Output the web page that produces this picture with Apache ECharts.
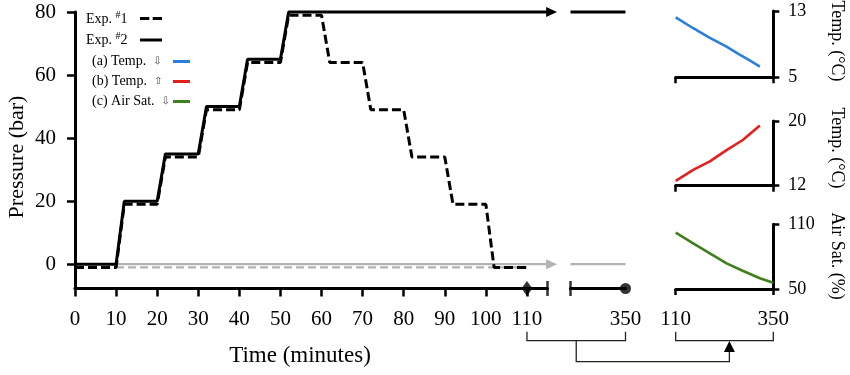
<!DOCTYPE html>
<html><head><meta charset="utf-8">
<script src="https://cdn.jsdelivr.net/npm/echarts@6/dist/echarts.min.js"></script>
<style>html,body{margin:0;padding:0;background:#fff}#c{width:850px;height:375px}</style>
</head><body><div id="c"></div>
<script>
const FONT = '"Liberation Serif", "Times New Roman", serif';

// ---- main panel (0-115 min) ----
const timeTicks = [0, 10, 20, 30, 40, 50, 60, 70, 80, 90, 100, 110];
const pressureTicks = [0, 20, 40, 60, 80];
const exp2Pressure = [[0,0],[10,0],[12,20],[20,20],[22,35],[30,35],[32,50],[40,50],[42,65],[50,65],[52,80],[116,80]];
const exp1Pressure = [[0,-1],[10,-1],[12,19],[20,19],[22,34],[30,34],[32,49],[40,49],[42,64],[50,64],[52,79],[60,79],[62,64],[70,64],[72,49],[80,49],[82,34],[90,34],[92,19],[100,19],[102,-1],[110,-1]];
const ambientSolid = [[10,0],[116,0]];
const ambientDashed = [[10,-1],[110,-1]];

// ---- long-run segment (up to 350 min) ----
const longTicks = [350];
const exp2Long = [[330,80],[350,80]];
const ambientLong = [[330,0],[350,0]];

// ---- right-hand panels (110-350 min) ----
const panelTicks = [110, 350];
const tempDown = [[110,12.24],[152,10.95],[194,9.75],[235,8.7],[263,7.85],[293,7.0],[317,6.3]];
const tempUp = [[110,12.6],[153,13.95],[194,15.0],[235,16.4],[275,17.65],[317,19.45]];
const airSatDown = [[110,102.2],[153,92.4],[194,83.1],[235,73.8],[276,66.7],[317,60.0],[350,55.8]];
const tempDownTicks = [5, 13];
const tempUpTicks = [12, 20];
const airSatTicks = [50, 110];

const BLUE = '#2a7fde', RED = '#e3201b', GREEN = '#3f7f1d', GRAY = '#b3b3b3';
const Y0 = -7.7;

const chart = echarts.init(document.getElementById('c'), null, {renderer: 'canvas'});

function axisBase(extra) {
  return Object.assign({
    axisLine: {show: true, onZero: false, lineStyle: {color: '#000', width: 3}},
    splitLine: {show: false},
  }, extra);
}
const lbl = (vals, size, margin) => ({show: true, customValues: vals, color: '#000', fontFamily: FONT, fontSize: size, margin: margin});
const tck = (vals, len) => ({show: true, customValues: vals, length: len, lineStyle: {color: '#000', width: 2.5}});

const option = {
  animation: false,
  grid: [
    {left: 75, top: 12, width: 472.5, height: 276.5},
    {left: 570.5, top: 12, width: 55, height: 276.5},
    {left: 675.7, top: 11, width: 97.6, height: 66.3},
    {left: 675.7, top: 121, width: 97.6, height: 64.7},
    {left: 675.7, top: 224.3, width: 97.6, height: 64.7}
  ],
  xAxis: [
    axisBase({type: 'value', gridIndex: 0, min: 0, max: 115, axisTick: tck(timeTicks, 8), axisLabel: lbl(timeTicks, 21, 20)}),
    axisBase({type: 'value', gridIndex: 1, min: 330, max: 350, axisTick: {show: false}, axisLabel: lbl(longTicks, 21, 20)}),
    axisBase({type: 'value', gridIndex: 2, min: 110, max: 350, axisTick: tck(panelTicks, 6), axisLabel: {show: false}}),
    axisBase({type: 'value', gridIndex: 3, min: 110, max: 350, axisTick: tck(panelTicks, 6), axisLabel: {show: false}}),
    axisBase({type: 'value', gridIndex: 4, min: 110, max: 350, axisTick: tck(panelTicks, 6), axisLabel: lbl(panelTicks, 21, 20)})
  ],
  yAxis: [
    axisBase({type: 'value', gridIndex: 0, min: Y0, max: 80, axisTick: tck(pressureTicks, 8), axisLabel: lbl(pressureTicks, 21, 19)}),
    {type: 'value', gridIndex: 1, min: Y0, max: 80, show: false},
    axisBase({type: 'value', gridIndex: 2, position: 'right', min: 5, max: 13, axisTick: tck(tempDownTicks, 6), axisLabel: lbl(tempDownTicks, 18, 15)}),
    axisBase({type: 'value', gridIndex: 3, position: 'right', min: 12, max: 20, axisTick: tck(tempUpTicks, 6), axisLabel: lbl(tempUpTicks, 18, 15)}),
    axisBase({type: 'value', gridIndex: 4, position: 'right', min: 50, max: 110, axisTick: tck(airSatTicks, 6), axisLabel: lbl(airSatTicks, 18, 15)})
  ],
  series: [
    {name: 'Ambient (Exp. #1)', type: 'line', xAxisIndex: 0, yAxisIndex: 0, data: ambientDashed, symbol: 'none', clip: false,
     lineStyle: {color: GRAY, width: 2.2, type: [8, 4]}, z: 2},
    {name: 'Ambient (Exp. #2)', type: 'line', xAxisIndex: 0, yAxisIndex: 0, clip: false, symbol: 'none', showSymbol: true,
     data: ambientSolid.map((p, i) => i === ambientSolid.length - 1 ? {value: p, symbol: 'triangle', symbolSize: [10, 11], symbolRotate: -90, itemStyle: {color: GRAY}} : {value: p}),
     lineStyle: {color: GRAY, width: 2.2}, itemStyle: {color: GRAY}, z: 2},
    {name: 'Exp. #2', type: 'line', xAxisIndex: 0, yAxisIndex: 0, clip: false, symbol: 'none', showSymbol: true,
     data: exp2Pressure.map((p, i) => i === exp2Pressure.length - 1 ? {value: p, symbol: 'triangle', symbolSize: [10, 11], symbolRotate: -90} : {value: p}),
     lineStyle: {color: '#000', width: 3}, itemStyle: {color: '#000'}, z: 4},
    {name: 'Exp. #1', type: 'line', xAxisIndex: 0, yAxisIndex: 0, data: exp1Pressure, symbol: 'none', clip: false,
     lineStyle: {color: '#000', width: 3, type: [9, 4]}, z: 3},
    {name: 'Main axis marks', type: 'scatter', xAxisIndex: 0, yAxisIndex: 0, clip: false, silent: true, z: 6,
     data: [{value: [110, Y0], symbol: 'diamond', symbolSize: [11, 15]}, {value: [115, Y0], symbol: 'rect', symbolSize: [2.5, 15]}],
     itemStyle: {color: '#000'}},
    {name: 'Exp. #2 long', type: 'line', xAxisIndex: 1, yAxisIndex: 1, data: exp2Long, symbol: 'none', clip: false,
     lineStyle: {color: '#000', width: 3}},
    {name: 'Ambient long', type: 'line', xAxisIndex: 1, yAxisIndex: 1, data: ambientLong, symbol: 'none', clip: false,
     lineStyle: {color: GRAY, width: 2.2}},
    {name: 'Long axis marks', type: 'scatter', xAxisIndex: 1, yAxisIndex: 1, clip: false, silent: true, z: 6,
     data: [{value: [350, Y0], symbol: 'circle', symbolSize: 11}, {value: [330, Y0], symbol: 'rect', symbolSize: [2.5, 15]}],
     itemStyle: {color: '#000'}},
    {name: '(a) Temp.', type: 'line', xAxisIndex: 2, yAxisIndex: 2, data: tempDown, symbol: 'none', clip: false,
     lineStyle: {color: BLUE, width: 2.6}},
    {name: '(b) Temp.', type: 'line', xAxisIndex: 3, yAxisIndex: 3, data: tempUp, symbol: 'none', clip: false,
     lineStyle: {color: RED, width: 2.6}},
    {name: '(c) Air Sat.', type: 'line', xAxisIndex: 4, yAxisIndex: 4, data: airSatDown, symbol: 'none', clip: false,
     lineStyle: {color: GREEN, width: 2.6}}
  ]
};
chart.setOption(option);

// ---- annotations (legend, titles, brackets) ----
const px = (axis, v) => chart.convertToPixel({xAxisIndex: axis}, v);
const L110 = px(0, 110), L350 = px(1, 350), R110 = px(4, 110), R350 = px(4, 350), RArrow = px(4, 242);
const midL = (L110 + L350) / 2;
const bTop = 331.7, bBot = 340.7, bLow = 361.7;

const txt = (x, y, text, size, rot) => ({type: 'text', x: x, y: y, rotation: rot || 0,
  style: {text: text, fill: '#000', font: size + 'px ' + FONT, align: 'center', verticalAlign: 'middle'}});
const richStyle = {
  s: {fontSize: 10, fontFamily: FONT, verticalAlign: 'top', lineHeight: 18, fill: '#000'},
  a: {fontSize: 10, fontFamily: '"DejaVu Sans"', fill: '#444'}
};
const legTxt = (x, y, text) => ({type: 'text', x: x, y: y,
  style: {text: text, fill: '#000', font: '14px ' + FONT, align: 'left', verticalAlign: 'middle', rich: richStyle}});
const legLine = (x1, x2, y, color, dash) => ({type: 'line', shape: {x1: x1, y1: y, x2: x2, y2: y},
  style: {stroke: color, lineWidth: 3, lineDash: dash || null}});
const poly = (pts) => ({type: 'polyline', shape: {points: pts}, style: {stroke: '#222', lineWidth: 1.3, fill: null}});

chart.setOption({
  graphic: {elements: [
    txt(17, 157, 'Pressure (bar)', 22, Math.PI / 2),
    txt(300, 356, 'Time (minutes)', 23, 0),
    txt(836.7, 41, 'Temp. (°C)', 18, -Math.PI / 2),
    txt(836.7, 148, 'Temp. (°C)', 18, -Math.PI / 2),
    txt(836.7, 256, 'Air Sat. (%)', 18, -Math.PI / 2),
    legTxt(86, 19, 'Exp. {s|#}1'),
    legLine(140, 162, 18.5, '#000', [9.3, 3.4]),
    legTxt(86, 40.5, 'Exp. {s|#}2'),
    legLine(140, 162, 40, '#000'),
    legTxt(92, 61.5, '(a) Temp.  {a|⇩}'),
    legLine(173, 190, 61.5, BLUE),
    legTxt(92, 81.5, '(b) Temp.  {a|⇧}'),
    legLine(173, 190, 81.5, RED),
    legTxt(92, 101.5, '(c) Air Sat.  {a|⇩}'),
    legLine(173, 190, 101.5, GREEN),
    poly([[L110, bTop], [L110, bBot], [L350, bBot], [L350, bTop]]),
    poly([[R110, bTop], [R110, bBot], [R350, bBot], [R350, bTop]]),
    poly([[midL, bBot], [midL, bLow], [RArrow, bLow], [RArrow, 351]]),
    {type: 'polygon', shape: {points: [[RArrow - 5.5, 352], [RArrow + 5.5, 352], [RArrow, 341]]}, style: {fill: '#000'}}
  ]}
});
</script>
</body></html>
